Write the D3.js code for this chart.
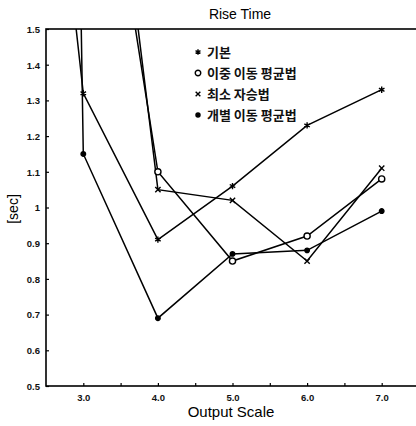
<!DOCTYPE html>
<html>
<head>
<meta charset="utf-8">
<script src="https://cdn.jsdelivr.net/npm/d3@7"></script>
<style>
  body { margin: 0; background: #fff; }
  svg { display: block; }
  .tick-label { font-family: "Liberation Sans", Arial, sans-serif; font-weight: bold; font-size: 9.5px; fill: #111; }
  .legend text { font-family: "Noto Sans CJK KR", sans-serif; font-weight: bold; font-size: 13px; fill: #111; }
</style>
</head>
<body>
<div id="chart"></div>
<script>
// output scale values
var scales = [2.0, 3.0, 4.0, 5.0, 6.0, 7.0];
// rise time [sec], null = not readable (off the chart)
var basic    = [3.2, 1.32, 0.91, 1.06, 1.23, 1.33];   // 기본
var doubleMA = [null, 2.43, 1.10, 0.85, 0.92, 1.08];  // 이중 이동 평균법
var leastSq  = [null, 2.75, 1.05, 1.02, 0.85, 1.11];  // 최소 자승법
var singleMA = [14.0, 1.15, 0.69, 0.87, 0.88, 0.99];  // 개별 이동 평균법

var seriesNames = ["기본", "이중 이동 평균법", "최소 자승법", "개별 이동 평균법"];
var yTicks = [0.5, 0.6, 0.7, 0.8, 0.9, 1.0, 1.1, 1.2, 1.3, 1.4, 1.5];
var yTickLabels = ["0.5", "0.6", "0.7", "0.8", "0.9", "1", "1.1", "1.2", "1.3", "1.4", "1.5"];
var xTicks = [3.0, 4.0, 5.0, 6.0, 7.0];
var xTickLabels = ["3.0", "4.0", "5.0", "6.0", "7.0"];
var xMinorTicks = [3.5, 4.5, 5.5, 6.5];

var W = 416, H = 426;
var margin = {left: 46, top: 29, right: -3, bottom: 40};
var width = W - margin.left - margin.right;
var height = H - margin.top - margin.bottom;

var svg = d3.select("#chart").append("svg")
    .attr("width", W)
    .attr("height", H);

var g = svg.append("g")
    .attr("transform", "translate(" + margin.left + "," + margin.top + ")");

var x = d3.scaleLinear().domain([2.5, 7.5]).range([0, width]);
var y = d3.scaleLinear().domain([0.5, 1.5]).range([height, 0]);

g.append("clipPath").attr("id", "plotclip")
    .append("rect").attr("width", width).attr("height", height);

// frame
g.append("rect")
    .attr("width", width).attr("height", height)
    .attr("fill", "none").attr("stroke", "#000").attr("stroke-width", 1.6);

// y axis ticks (inward)
var yAxis = d3.axisLeft(y).tickValues(yTicks).tickSize(-3)
    .tickFormat(function(d, i) { return yTickLabels[i]; });
var ya = g.append("g").call(yAxis);
ya.select(".domain").remove();
ya.selectAll("line").attr("stroke-width", 1.2);
ya.selectAll("text").attr("class", "tick-label").attr("x", -6).attr("dy", "0.35em");

// x axis ticks (inward)
var xAxis = d3.axisBottom(x).tickValues(xTicks).tickSize(-3)
    .tickFormat(function(d, i) { return xTickLabels[i]; });
var xa = g.append("g").attr("transform", "translate(0," + height + ")").call(xAxis);
xa.select(".domain").remove();
xa.selectAll("line").attr("stroke-width", 1.2);
xa.selectAll("text").attr("class", "tick-label").attr("y", 8);

var xMinor = d3.axisBottom(x).tickValues(xMinorTicks).tickSize(-3).tickFormat("");
var xm = g.append("g").attr("transform", "translate(0," + height + ")").call(xMinor);
xm.select(".domain").remove();
xm.selectAll("line").attr("stroke-width", 1.2);

// data lines
var allSeries = [basic, doubleMA, leastSq, singleMA];
var symbols = [d3.symbolAsterisk, d3.symbolCircle, d3.symbolTimes, d3.symbolCircle];
var symSizes = [28, 30, 20, 16];
var symFill = ["none", "#fff", "none", "#000"];

var line = d3.line()
    .defined(function(d) { return d != null; })
    .x(function(d, i) { return x(scales[i]); })
    .y(function(d) { return y(d); });

var plot = g.append("g").attr("clip-path", "url(#plotclip)");

allSeries.forEach(function(s, k) {
    plot.append("path")
        .attr("d", line(s))
        .attr("fill", "none")
        .attr("stroke", "#000")
        .attr("stroke-width", 1.5);
});

allSeries.forEach(function(s, k) {
    plot.selectAll(".m" + k)
        .data(s.map(function(v, i) { return {v: v, i: i}; })
            .filter(function(d) { return d.v != null && d.v <= 1.5; }))
        .enter().append("path")
        .attr("class", "m" + k)
        .attr("transform", function(d) { return "translate(" + x(scales[d.i]) + "," + y(d.v) + ")"; })
        .attr("d", d3.symbol().type(symbols[k]).size(symSizes[k]))
        .attr("fill", symFill[k])
        .attr("stroke", "#000")
        .attr("stroke-width", 1.4);
});

// legend
var legend = svg.append("g").attr("class", "legend")
    .attr("transform", "translate(198,52)");
seriesNames.forEach(function(name, k) {
    var row = legend.append("g").attr("transform", "translate(0," + (k * 21) + ")");
    row.append("path")
        .attr("d", d3.symbol().type(symbols[k]).size(symSizes[k] * 0.8))
        .attr("fill", symFill[k])
        .attr("stroke", "#000")
        .attr("stroke-width", 1.4);
    row.append("text").attr("x", 9).attr("dy", "0.38em").text(name);
});

// title and axis titles
svg.append("text")
    .attr("x", 240).attr("y", 19)
    .attr("text-anchor", "middle")
    .style("font-family", "Liberation Sans, Arial, sans-serif")
    .style("font-size", "14px")
    .text("Rise Time");

svg.append("text")
    .attr("x", 231).attr("y", 417)
    .attr("text-anchor", "middle")
    .style("font-family", "Liberation Sans, Arial, sans-serif")
    .style("font-size", "15px")
    .text("Output Scale");

svg.append("text")
    .attr("transform", "translate(18,209)rotate(-90)")
    .attr("text-anchor", "middle")
    .style("font-family", "Liberation Sans, Arial, sans-serif")
    .style("font-size", "14px")
    .text("[sec]");
</script>
</body>
</html>
